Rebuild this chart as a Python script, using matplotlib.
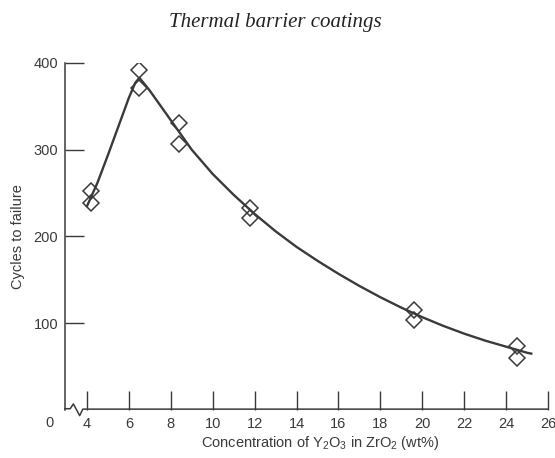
import matplotlib
matplotlib.use("Agg")
import matplotlib.pyplot as plt
from matplotlib.ticker import FixedLocator

# ---- data ----
conc_points = [4.2, 4.2, 6.5, 6.5, 8.4, 8.4, 11.8, 11.8, 19.6, 19.6, 24.5, 24.5]
cycles_points = [253, 239, 392, 371, 331, 307, 233, 221, 115, 104, 74, 60]

curve_conc = [4.0, 4.5, 5.0, 5.5, 6.0, 6.3, 6.5, 7.0, 8.0, 9.0, 10.0, 11.0, 12.0,
              13.0, 14.0, 15.0, 16.0, 17.0, 18.0, 19.0, 20.0, 21.0, 22.0, 23.0,
              24.0, 25.0, 25.2]
curve_cycles = [235, 262, 294, 327, 360, 377, 383, 368, 334, 300, 272, 248, 226,
                206, 188, 172, 157, 143, 130, 118, 107, 97, 88, 80,
                73, 66, 65]

x_ticks = [4, 6, 8, 10, 12, 14, 16, 18, 20, 22, 24, 26]
y_ticks = [100, 200, 300, 400]

title = "Thermal barrier coatings"
xlabel = r"Concentration of Y$_2$O$_3$ in ZrO$_2$ (wt%)"
ylabel = "Cycles to failure"

# ---- drawing ----
ink = "#3a3a3a"
plt.rcParams['font.family'] = ['Liberation Sans', 'DejaVu Sans']
plt.rcParams['mathtext.fontset'] = 'custom'
plt.rcParams['mathtext.rm'] = 'Liberation Sans'
plt.rcParams['mathtext.it'] = 'Liberation Sans:italic'

fig = plt.figure(figsize=(5.55, 4.58), dpi=100)
W, H = 555, 458
ax = fig.add_axes([65 / W, 1 - 410 / H, (548 - 65) / W, (410 - 63) / H])

ax.plot(curve_conc, curve_cycles, color=ink, lw=1.7, zorder=2)
ax.plot(conc_points, cycles_points, linestyle='none', marker='D', ms=8,
        mfc='none', mec=ink, mew=1.1, zorder=3)

ax.set_xlim(2.95, 26.0)
ax.set_ylim(0, 400)

for s in ['top', 'right', 'bottom']:
    ax.spines[s].set_visible(False)
ax.spines['left'].set_color(ink)
ax.spines['left'].set_linewidth(1.1)

# bottom axis with break symbol
bx = [2.95, 3.2, 3.35, 3.65, 3.8, 26.0]
by = [1.5, 1.5, 7.0, -6.5, 1.0, 1.0]
ax.plot(bx, by, color=ink, lw=1.1, clip_on=False, zorder=1)

ax.xaxis.set_major_locator(FixedLocator(x_ticks))
ax.yaxis.set_major_locator(FixedLocator(y_ticks))
ax.tick_params(axis='x', direction='in', length=14, width=1.0, color=ink,
               labelsize=10.5, labelcolor=ink, pad=5)
ax.tick_params(axis='y', direction='in', length=14, width=1.0, color=ink,
               labelsize=10.5, labelcolor=ink, pad=5)

fig.text(50 / W, 1 - 423 / H, "0", ha='center', va='center', fontsize=10.5,
         color=ink)

ax.set_xlabel(xlabel, fontsize=10.5, color=ink, labelpad=1)
ax.xaxis.set_label_coords((320 - 65) / (548 - 65), -0.068)
ax.set_ylabel(ylabel, fontsize=10.5, color=ink, labelpad=2)
ax.yaxis.set_label_coords(-(65 - 25) / (548 - 65), 0.5)

fig.text(275 / W, 1 - 22 / H, title, ha='center', va='center', fontsize=15,
         family='Liberation Serif', style='italic', color='#222222')

fig.savefig("out.png", dpi=100)
